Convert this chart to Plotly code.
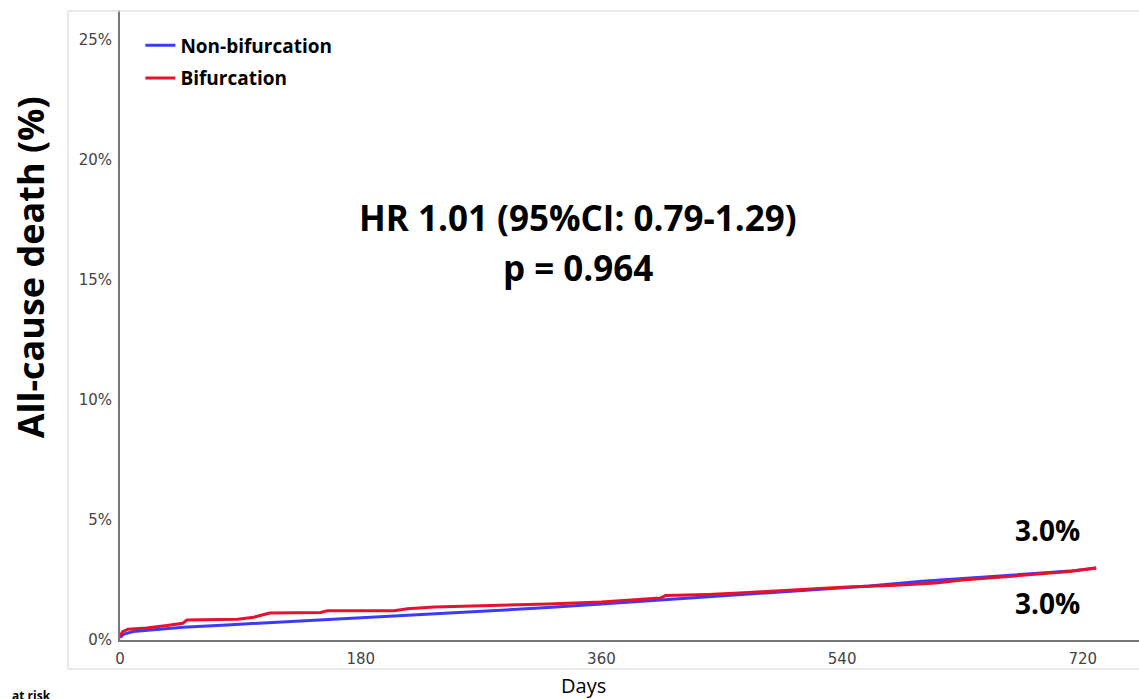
import plotly.graph_objects as go

# Data (days, cumulative incidence %)
nonbif_days = [0, 3, 10, 30, 47, 80, 110, 160, 180, 210, 250, 285, 320, 360, 400, 440, 480, 520, 560, 600, 640, 680, 710, 730]
nonbif_pct = [0.1, 0.25, 0.35, 0.45, 0.53, 0.63, 0.72, 0.86, 0.92, 1.02, 1.12, 1.22, 1.35, 1.5, 1.65, 1.8, 1.95, 2.1, 2.25, 2.45, 2.6, 2.75, 2.87, 3.0]

bif_days = [0, 2, 6, 20, 35, 47, 50, 88, 100, 108, 112, 150, 155, 205, 215, 235, 260, 285, 320, 360, 390, 404, 408, 440, 470, 500, 540, 580, 610, 630, 660, 690, 710, 730]
bif_pct = [0.15, 0.35, 0.45, 0.5, 0.6, 0.7, 0.83, 0.86, 0.95, 1.05, 1.12, 1.15, 1.22, 1.22, 1.3, 1.37, 1.4, 1.46, 1.5, 1.58, 1.68, 1.75, 1.85, 1.9, 1.98, 2.08, 2.2, 2.28, 2.38, 2.5, 2.62, 2.75, 2.85, 3.0]

x_ticks = [0, 180, 360, 540, 720]
y_ticks = [0, 5, 10, 15, 20, 25]
y_ticklabels = ["0%", "5%", "10%", "15%", "20%", "25%"]

series_names = ["Non-bifurcation", "Bifurcation"]
series_colors = ["#3b3bff", "#e8102e"]
end_labels = ["3.0%", "3.0%"]

fig = go.Figure()
fig.add_trace(go.Scatter(x=nonbif_days, y=nonbif_pct, mode="lines", name=series_names[0],
                         line=dict(color=series_colors[0], width=3), legendgroup="a"))
fig.add_trace(go.Scatter(x=bif_days, y=bif_pct, mode="lines", name=series_names[1],
                         line=dict(color=series_colors[1], width=3), legendgroup="b"))

tick_font = dict(family="DejaVu Sans", size=15, color="#444444")

fig.update_layout(
    width=1139, height=699,
    margin=dict(l=120, r=0, t=10, b=59),
    plot_bgcolor="white", paper_bgcolor="white",
    showlegend=True,
    legend=dict(x=0.02, y=0.974, xanchor="left", yanchor="top",
                font=dict(family="Open Sans", size=19, color="black", weight="bold"),
                bgcolor="rgba(0,0,0,0)", tracegroupgap=5, traceorder="grouped",
                itemwidth=30),
    xaxis=dict(range=[0, 762], tickvals=x_ticks, ticktext=[str(v) for v in x_ticks],
               showgrid=False, zeroline=False, showline=True, linecolor="#777777", linewidth=2,
               ticks="", tickfont=tick_font, ticklabelstandoff=4),
    yaxis=dict(range=[0, 26.25], tickvals=y_ticks, ticktext=y_ticklabels,
               showgrid=False, zeroline=False, showline=True, linecolor="#777777", linewidth=2,
               ticks="", tickfont=tick_font, ticklabelstandoff=3),
)

annotations = [
    dict(text="<b>All-cause death (%)</b>", x=-0.088, y=0.592, xref="paper", yref="paper",
         textangle=-90, showarrow=False, font=dict(family="Open Sans", size=36, color="black"),
         xanchor="center", yanchor="middle"),
    dict(text="<b>HR 1.01 (95%CI: 0.79-1.29)</b>", x=0.449, y=0.67, xref="paper", yref="paper",
         xanchor="center", yanchor="middle",
         showarrow=False, font=dict(family="Open Sans", size=35, color="black")),
    dict(text="<b>p = 0.964</b>", x=0.449, y=0.591, xref="paper", yref="paper",
         xanchor="center", yanchor="middle",
         showarrow=False, font=dict(family="Open Sans", size=35, color="black")),
    dict(text="<b>" + end_labels[0] + "</b>", x=0.91, y=0.1746, xref="paper", yref="paper",
         xanchor="center", yanchor="middle",
         showarrow=False, font=dict(family="Open Sans", size=28, color="black")),
    dict(text="<b>" + end_labels[1] + "</b>", x=0.91, y=0.0587, xref="paper", yref="paper",
         xanchor="center", yanchor="middle",
         showarrow=False, font=dict(family="Open Sans", size=28, color="black")),
    dict(text="Days", x=0.455, y=-0.072, xref="paper", yref="paper", xanchor="center", yanchor="middle",
         showarrow=False, font=dict(family="Open Sans", size=20, color="black")),
    dict(text="<b>at risk</b>", x=-0.108, y=-0.071, xref="paper", yref="paper", xanchor="left",
         yanchor="top", showarrow=False, font=dict(family="Open Sans", size=12, color="black")),
]
fig.update_layout(annotations=annotations)

# light frame of the embedded picture
fig.add_shape(type="line", xref="paper", yref="paper", x0=-0.0511, x1=1.0, y0=0.9984, y1=0.9984,
              line=dict(color="#e2e2e2", width=1.5))
fig.add_shape(type="line", xref="paper", yref="paper", x0=-0.0511, x1=-0.0511, y0=0.9984, y1=-0.046,
              line=dict(color="#e2e2e2", width=1.5))
fig.add_shape(type="line", xref="paper", yref="paper", x0=-0.0511, x1=1.0, y0=-0.046, y1=-0.046,
              line=dict(color="#e2e2e2", width=1.5))

fig.write_html("out.html")
